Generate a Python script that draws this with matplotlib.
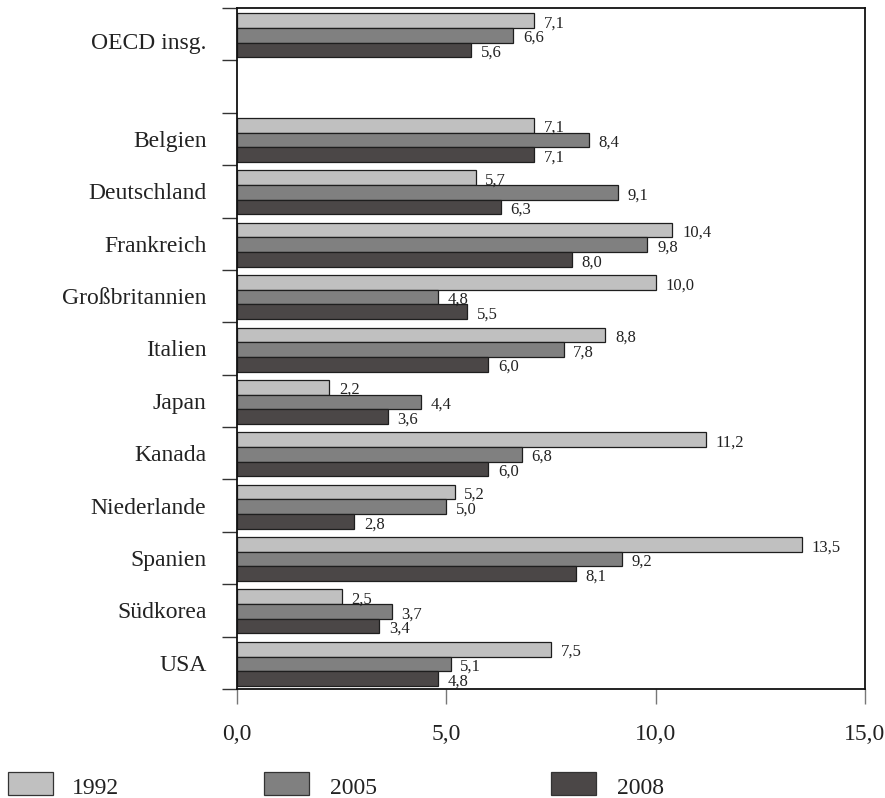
import matplotlib
matplotlib.use("Agg")
import matplotlib.pyplot as plt
from matplotlib.patches import Rectangle
import numpy as np

plt.rcParams['font.family'] = ['Liberation Serif', 'DejaVu Serif']

categories = ["OECD insg.", "", "Belgien", "Deutschland", "Frankreich", "Großbritannien",
              "Italien", "Japan", "Kanada", "Niederlande", "Spanien", "Südkorea", "USA"]
v1992 = [7.1, None, 7.1, 5.7, 10.4, 10.0, 8.8, 2.2, 11.2, 5.2, 13.5, 2.5, 7.5]
v2005 = [6.6, None, 8.4, 9.1, 9.8, 4.8, 7.8, 4.4, 6.8, 5.0, 9.2, 3.7, 5.1]
v2008 = [5.6, None, 7.1, 6.3, 8.0, 5.5, 6.0, 3.6, 6.0, 2.8, 8.1, 3.4, 4.8]
series_names = ["1992", "2005", "2008"]
colors = ["#c0c0c0", "#808080", "#4b4747"]
xticks = [0, 5, 10, 15]

W, H = 885, 798
fig = plt.figure(figsize=(W / 100, H / 100), dpi=100)
ax = fig.add_axes([237 / W, 1 - 689 / H, (865 - 237) / W, (689 - 8) / H])

n = len(categories)
y = np.arange(n)
h = 0.28
for k, (vals, col) in enumerate(zip([v1992, v2005, v2008], colors)):
    idx = [i for i, v in enumerate(vals) if v is not None]
    vv = [vals[i] for i in idx]
    yy = y[idx] + (k - 1) * h + 0.02
    ax.barh(yy, vv, height=h, color=col, edgecolor="#1e1e1e", linewidth=0.9, zorder=2)
    for yi, v in zip(yy, vv):
        ax.annotate(f"{v:.1f}".replace(".", ","), xy=(v, yi), xytext=(7, -2),
                    textcoords="offset points", ha="left", va="center", fontsize=12,
                    color="#222222")

ax.set_xlim(0, 15)
ax.set_ylim(n - 0.5, -0.5)
ax.set_xticks(xticks)
ax.set_xticklabels([f"{t:.1f}".replace(".", ",") for t in xticks], fontsize=17, color="#222222")
ax.tick_params(axis="x", direction="out", length=11, width=1.0, color="#777777", pad=14)

label_pos = y.astype(float)
label_pos[0] += 0.13
ax.set_yticks(label_pos)
ax.set_yticklabels(categories, fontsize=17, color="#222222")
ax.tick_params(axis="y", which="major", length=0, pad=22)
ax.set_yticks(np.arange(-0.5, n, 1.0), minor=True)
ax.tick_params(axis="y", which="minor", direction="out", length=11, width=1.0, color="#333333")

for s in ax.spines.values():
    s.set_linewidth(1.3)
    s.set_color("#111111")

# legend
legend_boxes = [(8, 772), (264, 772), (551, 772)]
legend_text_x = [72, 330, 617]
for (bx, by), tx, col, name in zip(legend_boxes, legend_text_x, colors, series_names):
    fig.patches.append(Rectangle((bx / W, 1 - (by + 23) / H), 45 / W, 23 / H,
                                 transform=fig.transFigure, facecolor=col,
                                 edgecolor="#333333", linewidth=0.9))
    fig.text(tx / W, 1 - 788 / H, name, fontsize=17, va="center", ha="left", color="#222222")

fig.savefig("out.png", dpi=100)
